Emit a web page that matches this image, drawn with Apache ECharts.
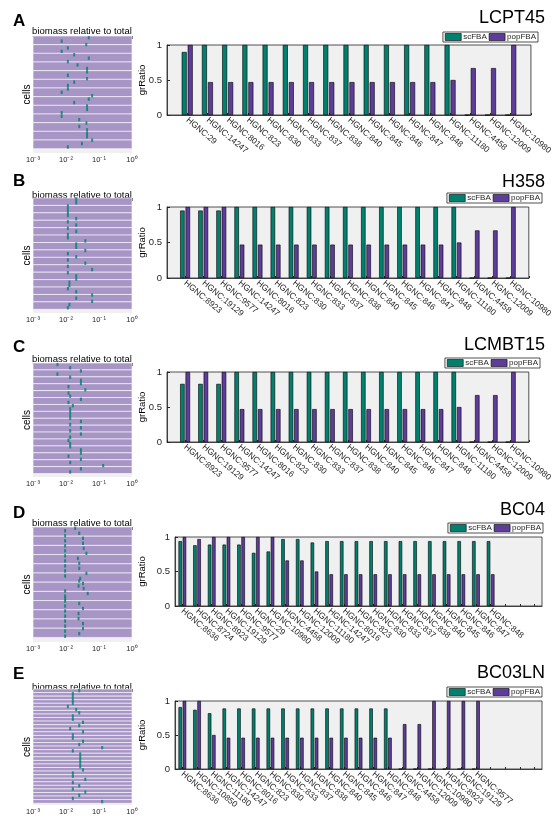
<!DOCTYPE html>
<html>
<head>
<meta charset="utf-8">
<script src="https://cdn.jsdelivr.net/npm/echarts@6/dist/echarts.min.js"></script>
<style>
  html, body { margin: 0; padding: 0; background: #fff; }
  #main { width: 555px; height: 823px; }
</style>
</head>
<body>
<div id="main"></div>
<script>
// ---- data ----
const sampleNames = ['LCPT45', 'H358', 'LCMBT15', 'BC04', 'BC03LN']
const panelLetters = ['A', 'B', 'C', 'D', 'E']
const logTicks = [0.001, 0.01, 0.1, 1]

const genesA = ['HGNC:29', 'HGNC:14247', 'HGNC:8016', 'HGNC:823', 'HGNC:830', 'HGNC:833', 'HGNC:837', 'HGNC:838', 'HGNC:840', 'HGNC:845', 'HGNC:846', 'HGNC:847', 'HGNC:848', 'HGNC:11180', 'HGNC:4458', 'HGNC:12009', 'HGNC:10980']
const scA = [0.9, 1, 1, 1, 1, 1, 1, 1, 1, 1, 1, 1, 1, 1, 0, 0, 0]
const popA = [1, 0.47, 0.47, 0.47, 0.47, 0.47, 0.47, 0.47, 0.47, 0.47, 0.47, 0.47, 0.47, 0.5, 0.67, 0.67, 1]

const genesB = ['HGNC:8923', 'HGNC:19129', 'HGNC:9577', 'HGNC:14247', 'HGNC:8016', 'HGNC:823', 'HGNC:830', 'HGNC:833', 'HGNC:837', 'HGNC:838', 'HGNC:840', 'HGNC:845', 'HGNC:846', 'HGNC:847', 'HGNC:848', 'HGNC:11180', 'HGNC:4458', 'HGNC:12009', 'HGNC:10980']
const scB = [0.95, 0.95, 0.95, 1, 1, 1, 1, 1, 1, 1, 1, 1, 1, 1, 1, 1, 0, 0, 0]
const popB = [1, 1, 1, 0.47, 0.47, 0.47, 0.47, 0.47, 0.47, 0.47, 0.47, 0.47, 0.47, 0.47, 0.47, 0.5, 0.67, 0.67, 1]

const genesC = ['HGNC:8923', 'HGNC:19129', 'HGNC:9577', 'HGNC:14247', 'HGNC:8016', 'HGNC:823', 'HGNC:830', 'HGNC:833', 'HGNC:837', 'HGNC:838', 'HGNC:840', 'HGNC:845', 'HGNC:846', 'HGNC:847', 'HGNC:848', 'HGNC:11180', 'HGNC:4458', 'HGNC:12009', 'HGNC:10980']
const scC = [0.83, 0.83, 0.83, 1, 1, 1, 1, 1, 1, 1, 1, 1, 1, 1, 1, 1, 0, 0, 0]
const popC = [1, 1, 1, 0.47, 0.47, 0.47, 0.47, 0.47, 0.47, 0.47, 0.47, 0.47, 0.47, 0.47, 0.47, 0.5, 0.67, 0.67, 1]

const genesD = ['HGNC:8636', 'HGNC:8724', 'HGNC:8923', 'HGNC:19129', 'HGNC:9577', 'HGNC:29', 'HGNC:10980', 'HGNC:4458', 'HGNC:12009', 'HGNC:11180', 'HGNC:14247', 'HGNC:8016', 'HGNC:823', 'HGNC:830', 'HGNC:833', 'HGNC:837', 'HGNC:838', 'HGNC:840', 'HGNC:845', 'HGNC:846', 'HGNC:847', 'HGNC:848']
const scD = [0.94, 0.88, 0.89, 0.89, 0.89, 0.77, 0.79, 0.97, 0.97, 0.92, 0.94, 0.94, 0.94, 0.94, 0.94, 0.94, 0.94, 0.94, 0.94, 0.94, 0.94, 0.94]
const popD = [1, 0.97, 1, 1, 1, 1, 1, 0.66, 0.66, 0.5, 0.46, 0.46, 0.46, 0.46, 0.46, 0.46, 0.46, 0.46, 0.46, 0.46, 0.46, 0.46]

const genesE = ['HGNC:8636', 'HGNC:10850', 'HGNC:11180', 'HGNC:14247', 'HGNC:8016', 'HGNC:823', 'HGNC:830', 'HGNC:833', 'HGNC:837', 'HGNC:838', 'HGNC:840', 'HGNC:845', 'HGNC:846', 'HGNC:847', 'HGNC:848', 'HGNC:4458', 'HGNC:12009', 'HGNC:10980', 'HGNC:8923', 'HGNC:19129', 'HGNC:9577']
const scE = [0.91, 0.87, 0.82, 0.89, 0.89, 0.89, 0.89, 0.89, 0.89, 0.89, 0.89, 0.89, 0.89, 0.89, 0.89, 0, 0, 0, 0, 0, 0]
const popE = [1, 1, 0.5, 0.46, 0.46, 0.46, 0.46, 0.46, 0.46, 0.46, 0.46, 0.46, 0.46, 0.46, 0.46, 0.66, 0.66, 1, 1, 1, 1]

// biomass fraction of each cell, top to bottom
const cellsA = [0.049, 0.0074, 0.041, 0.0114, 0.0074, 0.0177, 0.049, 0.0114, 0.0224, 0.0435, 0.0435, 0.0114, 0.0435, 0.0177, 0.0114, 0.0114, 0.0074, 0.0618, 0.049, 0.0177, 0.0435, 0.0435, 0.0074, 0.0074, 0.0252, 0.0415, 0.0252, 0.0435, 0.0435, 0.0435, 0.0618, 0.0304, 0.0114]
const cellsB = [0.0204, 0.0204, 0.0114, 0.0114, 0.0114, 0.0114, 0.0204, 0.0114, 0.0204, 0.0114, 0.0204, 0.0114, 0.0114, 0.0385, 0.0204, 0.0204, 0.0385, 0.0114, 0.0204, 0.0114, 0.0385, 0.0114, 0.0618, 0.0114, 0.0204, 0.0204, 0.0127, 0.0127, 0.0114, 0.0204, 0.0618, 0.0204, 0.0618, 0.0127, 0.0114]
const cellsC = [0.0055, 0.0134, 0.0283, 0.0055, 0.0134, 0.0283, 0.0283, 0.0119, 0.0385, 0.0119, 0.0134, 0.0283, 0.0119, 0.0161, 0.0134, 0.0134, 0.0134, 0.0134, 0.0283, 0.0134, 0.0283, 0.0134, 0.0283, 0.0134, 0.0119, 0.0134, 0.0134, 0.0283, 0.0283, 0.0119, 0.0283, 0.0134, 0.134, 0.0283, 0.0134]
const cellsD = [0.019, 0.0094, 0.0252, 0.0094, 0.0327, 0.0094, 0.0327, 0.0094, 0.0343, 0.0094, 0.0415, 0.0094, 0.0229, 0.0094, 0.0252, 0.0094, 0.0252, 0.0094, 0.0415, 0.0094, 0.027, 0.0252, 0.0327, 0.024, 0.0343, 0.0094, 0.0455, 0.0094, 0.0094, 0.0094, 0.0252, 0.0094, 0.0327, 0.0094, 0.024, 0.0094, 0.024, 0.0094, 0.0327, 0.0094, 0.0327, 0.0094, 0.0252, 0.0094]
const cellsE = [0.0252, 0.0161, 0.0161, 0.0161, 0.0161, 0.0114, 0.0204, 0.0252, 0.0161, 0.0161, 0.0327, 0.0252, 0.0134, 0.0327, 0.0161, 0.0161, 0.0327, 0.0252, 0.125, 0.0161, 0.027, 0.027, 0.027, 0.027, 0.027, 0.0327, 0.0161, 0.0161, 0.0385, 0.0161, 0.0252, 0.0161, 0.0385, 0.0252, 0.0161, 0.125]
const bandCounts = [13, 15, 16, 12, 32]

// ---- layout ----
const FONT = 'Liberation Sans, Arial, sans-serif'
const TXT = '#262626'
const TEAL = '#00806e'
const PURPLE = '#5e3c99'
const LAVENDER = '#a795c6'

const panels = [
  { genes: genesA, sc: scA, pop: popA, cells: cellsA },
  { genes: genesB, sc: scB, pop: popB, cells: cellsB },
  { genes: genesC, sc: scC, pop: popC, cells: cellsC },
  { genes: genesD, sc: scD, pop: popD, cells: cellsD },
  { genes: genesE, sc: scE, pop: popE, cells: cellsE },
]

const rows = [
  { letterTop: 13, nameY: 18, legendTop: 32, legendRight: 17, subY: 31, leftTop: 36, leftH: 117, rTop: 45, rH: 70, rLeft: 167, rRight: 15, slots: 0, barW: 5 },
  { letterTop: 173, nameY: 182, legendTop: 193, legendRight: 13, subY: 195, leftTop: 198, leftH: 115, rTop: 207, rH: 71, rLeft: 167, rRight: 13, slots: 0, barW: 4.5 },
  { letterTop: 339, nameY: 345, legendTop: 358, legendRight: 15, subY: 359, leftTop: 363, leftH: 114, rTop: 372, rH: 70, rLeft: 167, rRight: 13, slots: 0, barW: 4.5 },
  { letterTop: 505, nameY: 510, legendTop: 523, legendRight: 12, subY: 523, leftTop: 527, leftH: 115, rTop: 537, rH: 69, rLeft: 175, rRight: 13, slots: 25, barW: 3.5 },
  { letterTop: 666, nameY: 673, legendTop: 687, legendRight: 13, subY: 687, leftTop: 689, leftH: 116, rTop: 701, rH: 68, rLeft: 175, rRight: 13, slots: 25, barW: 3.5 },
]
const GR_NAME_X = 147 // right edge of the rotated "grRatio" label

const grid = [], xAxis = [], yAxis = [], series = [], legend = [], graphic = []

const supDigits = { '-': '⁻', '0': '⁰', '1': '¹', '2': '²', '3': '³' }

panels.forEach((p, i) => {
  const r = rows[i]
  const li = i * 2, ri = i * 2 + 1

  // left: per-cell biomass strip
  const bandH = p.cells.length / bandCounts[i]
  grid.push({ left: 33, width: 99, top: r.leftTop, height: r.leftH, show: true, borderWidth: 0, backgroundColor: '#f0f0f0' })
  xAxis.push({
    gridIndex: li, type: 'log', logBase: 10, min: 0.001, max: 1,
    axisLine: { show: true, lineStyle: { color: TXT, width: 0.6 } },
    axisTick: { show: true, length: 3, lineStyle: { color: TXT, width: 0.8 } },
    minorTick: { show: true, splitNumber: 9, length: 2, lineStyle: { color: TXT, width: 0.6 } },
    splitLine: { show: false },
    axisLabel: {
      margin: 3, color: TXT, fontFamily: FONT, fontSize: 7.5,
      formatter: (v) => {
        if (!logTicks.some((t) => Math.abs(t - v) / t < 1e-6)) return ''
        const e = String(Math.round(Math.log10(v)))
        return '10' + e.split('').map((c) => supDigits[c]).join('')
      },
    },
  })
  yAxis.push({
    gridIndex: li, type: 'value', inverse: true, min: 0, max: p.cells.length + bandH * 0.5,
    axisLine: { show: false }, axisTick: { show: false }, axisLabel: { show: false }, splitLine: { show: false },
    name: 'cells', nameLocation: 'middle', nameGap: 1, nameMoveOverlap: false,
    nameTextStyle: { color: '#000', fontFamily: FONT, fontSize: 10 },
  })
  const bands = []
  for (let k = 0; k < bandCounts[i]; k++) {
    bands.push([{ yAxis: k * bandH }, { yAxis: (k + 1) * bandH }])
  }
  series.push({
    type: 'scatter', xAxisIndex: li, yAxisIndex: li,
    data: p.cells.map((v, k) => [v, k + 0.5]),
    symbol: 'rect', symbolSize: [2, 3.4], itemStyle: { color: TEAL },
    silent: true, z: 3,
    markArea: {
      silent: true,
      itemStyle: { color: LAVENDER, borderColor: '#fff', borderWidth: 0.6 },
      data: bands,
    },
  })

  // right: knockout growth ratio bars
  let cats, sc, pop, gap
  if (r.slots) {
    const extra = r.slots - p.genes.length
    cats = p.genes.concat(Array(extra).fill(''))
    sc = p.sc.concat(Array(extra).fill('-'))
    pop = p.pop.concat(Array(extra).fill('-'))
    gap = true
  } else {
    cats = [''].concat(p.genes, [''])
    sc = ['-'].concat(p.sc, ['-'])
    pop = ['-'].concat(p.pop, ['-'])
    gap = false
  }
  grid.push({ left: r.rLeft, right: r.rRight, top: r.rTop, height: r.rH, show: true, borderColor: TXT, borderWidth: 0.8, backgroundColor: '#f0f0f0' })
  xAxis.push({
    gridIndex: ri, type: 'category', data: cats, boundaryGap: gap,
    axisLine: { show: true, lineStyle: { color: TXT, width: 0.8 } },
    axisTick: { show: true, inside: true, length: 2, alignWithLabel: true, lineStyle: { color: TXT } },
    axisLabel: { interval: 0, rotate: -40, margin: 4, color: TXT, fontFamily: FONT, fontSize: 8.5 },
  })
  yAxis.push({
    gridIndex: ri, type: 'value', min: 0, max: 1, interval: 0.5,
    axisLine: { show: true, lineStyle: { color: TXT, width: 0.8 } },
    axisTick: { show: true, inside: true, length: 3, lineStyle: { color: TXT } },
    splitLine: { show: false },
    axisLabel: { margin: 5, color: TXT, fontFamily: FONT, fontSize: 9.5 },
    name: 'grRatio', nameLocation: 'middle', nameGap: r.rLeft - GR_NAME_X, nameMoveOverlap: false,
    nameTextStyle: { color: '#000', fontFamily: FONT, fontSize: 9.5 },
  })
  const barStyle = (c) => ({ color: c, borderColor: '#000', borderWidth: 0.6 })
  series.push({
    name: 'scFBA', type: 'bar', xAxisIndex: ri, yAxisIndex: ri, data: sc,
    barWidth: r.barW, barGap: '20%', itemStyle: barStyle(TEAL),
  })
  series.push({
    name: 'popFBA', type: 'bar', xAxisIndex: ri, yAxisIndex: ri, data: pop,
    barWidth: r.barW, barGap: '20%', itemStyle: barStyle(PURPLE),
  })

  legend.push({
    data: ['scFBA', 'popFBA'], right: r.legendRight, top: r.legendTop, orient: 'horizontal',
    icon: 'rect', itemWidth: 16, itemHeight: 7, itemGap: 2, padding: [1, 2],
    borderColor: TXT, borderWidth: 0.8, backgroundColor: '#fff', selectedMode: false,
    itemStyle: { borderColor: '#000', borderWidth: 0.6 },
    textStyle: { color: TXT, fontFamily: FONT, fontSize: 8, padding: [0, 0, 0, -3] },
  })

  graphic.push({
    type: 'text', left: 13, top: r.letterTop,
    style: { text: panelLetters[i], fill: '#000', font: 'bold 17px ' + FONT },
  })
  graphic.push({
    type: 'text', x: 82, y: r.subY,
    style: { text: 'biomass relative to total', fill: '#000', font: '9.5px ' + FONT, textAlign: 'center', textVerticalAlign: 'middle' },
  })
  graphic.push({
    type: 'text', x: 545, y: r.nameY,
    style: { text: sampleNames[i], fill: '#000', font: '18px ' + FONT, textAlign: 'right', textVerticalAlign: 'middle' },
  })
})

const chart = echarts.init(document.getElementById('main'), null, { renderer: 'canvas' })
chart.setOption({
  animation: false,
  backgroundColor: '#fff',
  grid, xAxis, yAxis, series, legend, graphic,
})
</script>
</body>
</html>
